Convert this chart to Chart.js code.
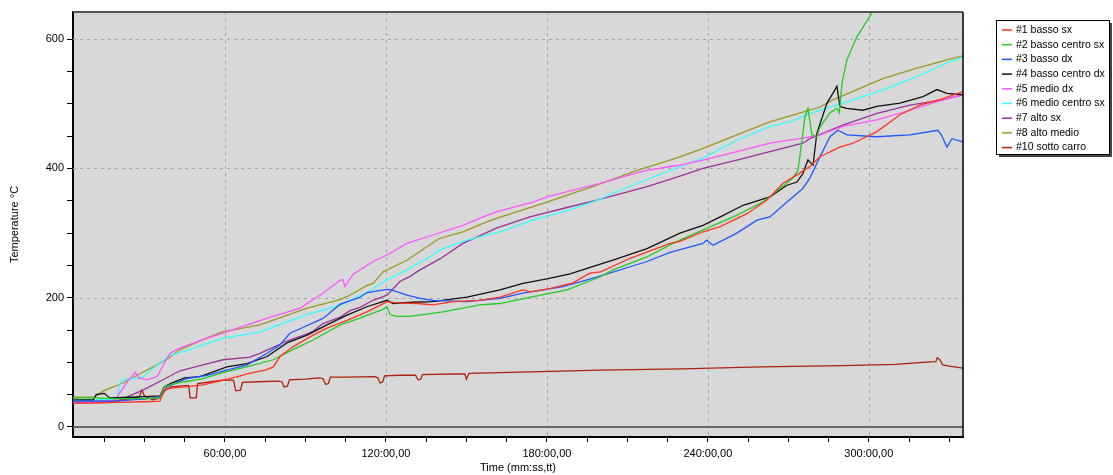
<!DOCTYPE html>
<html>
<head>
<meta charset="utf-8">
<script src="https://cdn.jsdelivr.net/npm/chart.js@4.4.0/dist/chart.umd.min.js"></script>
<style>
  body { margin: 0; background: #fff; }
  #wrap { width: 1113px; height: 475px; }
</style>
</head>
<body>
<div id="wrap"><canvas id="myChart" width="1113" height="475"></canvas></div>
<script>
// tempo in minuti, temperatura in gradi
const bassoSx = [[3.4,37],[11,37],[20,38],[30,39],[35.8,40],[37.3,58],[40,60],[45,62],[51.8,65],[57,70],[60,73],[64,77],[69,83],[75,88],[78,93],[80.5,109],[85.3,124],[92.8,142],[98,153],[105.5,165],[112.9,178],[119.6,192],[120.4,194],[124,192],[131.6,191],[137.5,189],[145,194],[155,196],[162.5,201],[171,212],[174,209],[181,214],[189.7,223],[196,238],[200,240],[211,261],[225.9,284],[229.6,287],[238.2,302],[244.6,310],[254.6,330],[262,351],[268,377],[273.2,390],[278,403],[281.8,418],[289.2,433],[294.1,439],[303,457],[311.6,483],[319,498],[327.6,508],[335.1,519]];
const bassoCentroSx = [[3.4,45],[11,45],[20,44],[30,44],[35.8,45],[37.3,62],[40,66],[45,70],[51,74],[60,85],[68,93],[78,104],[85,119],[93,135],[103,158],[110,168],[118.9,182],[120.4,186],[121.5,174],[124,171],[129,171],[141.3,178],[155,189],[162.5,191],[174,201],[187.5,212],[199.8,232],[204.6,243],[217.3,263],[226,282],[229.6,289],[238.2,305],[249.5,325],[260.5,348],[266.9,369],[271.7,385],[273.6,397],[275.1,444],[276.2,480],[277.3,493],[278.8,452],[280.6,449],[281.8,464],[285.5,486],[288.1,493],[289,486],[290,532],[291.8,568],[295.6,604],[301.5,643],[306,690]];
const bassoDx = [[3.4,40],[11,40],[20,40],[25,42],[30,43],[35.8,47],[38.4,62],[45.8,75],[53.3,80],[60.7,88],[68.2,96],[75.7,114],[80.5,127],[84.2,145],[88,152],[96.5,168],[103,190],[110,200],[113,208],[120.4,213],[122,212],[127.8,204],[132.7,199],[137.5,196],[150,194],[162.5,199],[171,207],[186,217],[198.6,232],[217.3,256],[225.9,270],[238.2,284],[239.5,289],[241.9,281],[250.8,300],[258.3,320],[263.1,325],[269.5,348],[275.4,369],[278,385],[281.8,418],[285.5,449],[288.5,459],[291.8,452],[303,449],[315.3,452],[325.7,459],[327,452],[329.1,433],[331,446],[335.1,441]];
const bassoCentroDx = [[3.4,42],[11,42],[12,50],[15,52],[17,45],[25,46],[30,47],[35.8,48],[37.3,62],[40,68],[45,76],[50.7,78],[60.7,93],[68.2,98],[75.7,109],[83.1,130],[90.6,142],[98,158],[105.5,173],[112.9,186],[120.4,196],[122.6,191],[130,193],[137.5,194],[150.2,201],[162.5,212],[171.1,222],[180,229],[188.6,237],[204.6,258],[217.3,276],[229.6,300],[238.2,312],[244.6,325],[253.1,343],[263.1,356],[269.5,374],[273.2,379],[275.4,392],[277.3,413],[279.2,405],[280.6,454],[284.4,501],[286.6,516],[288.1,527],[289.2,496],[291.8,493],[297.8,490],[303,496],[311.6,501],[320.2,511],[325.4,522],[329.1,516],[335.1,514]];
const medioDx = [[3.4,38],[11,38],[19,42],[21.5,57],[24,72],[26.6,85],[27.8,76],[31,73],[34.7,78],[37.7,101],[39.5,114],[43,122],[51.8,135],[60.7,147],[68.2,158],[77.9,171],[88,184],[90.6,191],[96.5,207],[102.9,227],[104,228],[104.7,217],[107.7,236],[115.2,256],[120.4,266],[127.8,284],[137.5,297],[148.7,312],[156.2,325],[161.4,333],[174.8,348],[180,356],[199.8,377],[213.6,393],[217.3,397],[225.9,403],[229.6,405],[238.2,413],[250.8,426],[263.1,439],[275.4,447],[281.8,452],[290.3,465],[303,475],[315.3,490],[327.6,506],[335.1,514]];
const medioCentroSx = [[3.4,42],[11,42],[19.7,43],[21,70],[22,73],[29.4,77],[34.7,96],[39.5,111],[45.8,118],[51.8,127],[59,137],[73,147],[88,170],[90.6,174],[102.9,188],[112.9,208],[120.4,228],[127.8,243],[137.5,266],[140,274],[150.2,289],[162.5,302],[174.8,320],[188.6,336],[199.8,352],[204.6,362],[229.6,403],[238.2,416],[250.8,444],[263.1,465],[270.6,472],[278,485],[288.1,498],[305.2,521],[317.9,542],[330.2,565],[335.1,572]];
const altoSx = [[3.4,40],[11,40],[20.9,42],[29.4,57],[36.9,73],[43.2,87],[51.8,96],[59.3,104],[69.3,108],[73,114],[83.1,133],[88,140],[92.8,148],[96.5,160],[103,170],[106.6,180],[110.3,185],[115.2,196],[120.4,204],[125.2,225],[129,233],[132.7,243],[140.1,260],[148.7,284],[161.4,308],[173.7,325],[186,338],[198.6,351],[217.3,372],[229.6,388],[238.2,400],[250.8,413],[263.1,426],[275.4,439],[278,446],[290.3,467],[303,485],[315.3,498],[327.6,506],[335.1,514]];
const altoMedio = [[3.4,46],[11,46],[15.3,57],[22,68],[27.2,80],[34.7,96],[39.5,108],[43,119],[51.8,135],[59,147],[69,155],[73,158],[88,180],[90.6,184],[102.9,197],[107,205],[112.9,219],[115.2,222],[118.9,240],[120.4,243],[127.8,258],[137.5,285],[140.1,292],[148.7,302],[156.2,315],[161.4,323],[174.8,341],[180,348],[198.6,374],[213.6,397],[225.9,413],[229.6,418],[238.2,431],[250.8,452],[255.7,460],[263.1,472],[275.4,487],[281.8,495],[286.6,506],[305.2,539],[317.9,555],[330.2,569],[335.1,574]];
const sottoCarro = [[3.4,37],[15,38],[22,42],[28,46],[29,57],[30,48],[33,42],[36,45],[37.5,56],[40,62],[45,64],[46.5,64],[47,45],[49.3,45],[49.8,67],[55,70],[60,73],[63.2,72],[64,56],[65.8,57],[66.5,69],[72,70],[80,71],[81.2,70],[82,62],[83.3,63],[84,73],[90,74],[95,76],[96.5,75],[97.5,66],[98.5,67],[99.3,77],[105,77],[116,78],[117,76],[117.8,68],[118.8,70],[119.5,79],[125,80],[131,80],[132,73],[133,74],[133.6,81],[145,82],[149.4,82],[150,74],[150.6,80],[151,83],[170,85],[200,88],[230,90],[260,93],[290,95],[310,97],[320,100],[325,101],[325.5,107],[326.5,104],[327.5,96],[330,94],[335.1,91]];

const nomi = ['#1 basso sx', '#2 basso centro sx', '#3 basso dx', '#4 basso centro dx', '#5 medio dx', '#6 medio centro sx', '#7 alto sx', '#8 alto medio', '#10 sotto carro'];
const colori = ['#ff3322', '#22cc22', '#2255ff', '#111111', '#ff55ff', '#33ffff', '#993399', '#999922', '#aa2211'];
const serie = [bassoSx, bassoCentroSx, bassoDx, bassoCentroDx, medioDx, medioCentroSx, altoSx, altoMedio, sottoCarro];

const tickMinuti = [60, 120, 180, 240, 300];
const tickGradi = [0, 200, 400, 600];

const FONT_LEG = '10.5px "Liberation Sans", Arial, sans-serif';

const sfondo = {
    id: 'sfondo',
    beforeDraw(chart) {
        const a = chart.chartArea, c = chart.ctx;
        c.save();
        c.fillStyle = '#d8d8d8';
        c.fillRect(a.left, a.top, a.right - a.left, a.bottom - a.top);
        c.restore();
    },
    beforeDatasetsDraw(chart) {
        const a = chart.chartArea, c = chart.ctx;
        const x = chart.scales.x, y = chart.scales.y;
        c.save();
        c.strokeStyle = '#a4a4a4';
        c.lineWidth = 1;
        c.setLineDash([3, 4]);
        tickMinuti.forEach(m => {
            const px = Math.round(x.getPixelForValue(m)) + 0.5;
            c.beginPath(); c.moveTo(px, a.top); c.lineTo(px, a.bottom); c.stroke();
        });
        tickGradi.filter(g => g !== 0).forEach(g => {
            const py = Math.round(y.getPixelForValue(g)) + 0.5;
            c.beginPath(); c.moveTo(a.left, py); c.lineTo(a.right, py); c.stroke();
        });
        c.setLineDash([]);
        c.strokeStyle = '#666';
        c.lineWidth = 2;
        const p0 = Math.round(y.getPixelForValue(0));
        c.beginPath(); c.moveTo(a.left, p0); c.lineTo(a.right, p0); c.stroke();
        c.restore();
    },
    afterDraw(chart) {
        const a = chart.chartArea, c = chart.ctx;
        c.save();
        c.strokeStyle = '#555';
        c.lineWidth = 2;
        c.beginPath(); c.moveTo(a.left, a.top); c.lineTo(a.right, a.top); c.stroke();
        c.strokeStyle = '#000';
        c.lineWidth = 1.5;
        c.beginPath(); c.moveTo(a.right, a.top); c.lineTo(a.right, a.bottom); c.stroke();

        // legenda
        const lx = 996, ly = 20, lw = 113, lh = 134;
        c.fillStyle = '#444';
        c.fillRect(lx + 3, ly + 3, lw, lh);
        c.fillStyle = '#fff';
        c.fillRect(lx, ly, lw, lh);
        c.strokeStyle = '#000';
        c.lineWidth = 1;
        c.strokeRect(lx + 0.5, ly + 0.5, lw, lh);
        c.font = FONT_LEG;
        c.textBaseline = 'middle';
        chart.data.datasets.forEach((d, i) => {
            const ry = 30 + i * 14.7;
            c.strokeStyle = d.borderColor;
            c.lineWidth = 1.5;
            c.beginPath(); c.moveTo(1002, ry); c.lineTo(1012, ry); c.stroke();
            c.fillStyle = '#000';
            c.fillText(d.label, 1016, ry);
        });
        c.restore();
    }
};

const ctx = document.getElementById('myChart').getContext('2d');
const myChart = new Chart(ctx, {
    type: 'line',
    data: {
        datasets: serie.map((s, i) => ({
            label: nomi[i],
            data: s.map(p => ({ x: p[0], y: p[1] })),
            borderColor: colori[i],
            borderWidth: 1.3,
            pointRadius: 0,
            tension: 0,
            fill: false
        }))
    },
    options: {
        responsive: false,
        animation: false,
        layout: { padding: { top: 12, right: 150, left: 0, bottom: 0 } },
        plugins: { legend: { display: false }, tooltip: { enabled: false } },
        scales: {
            x: {
                type: 'linear',
                min: 3.35,
                max: 335.1,
                afterFit: s => { s.height = 38; },
                grid: { drawOnChartArea: false, tickColor: '#000', tickLength: 5, tickWidth: 1 },
                border: { display: true, color: '#000', width: 2 },
                ticks: {
                    stepSize: 15,
                    includeBounds: false,
                    autoSkip: false,
                    maxRotation: 0,
                    padding: 5,
                    color: '#000',
                    font: { family: '"Liberation Sans", Arial, sans-serif', size: 11 },
                    callback: v => tickMinuti.includes(v) ? v + ':00,00' : ''
                },
                title: {
                    display: true,
                    text: 'Time (mm:ss,tt)',
                    color: '#000',
                    padding: { top: 0, bottom: 0 },
                    font: { family: '"Liberation Sans", Arial, sans-serif', size: 11 }
                }
            },
            y: {
                type: 'linear',
                min: -15.5,
                max: 642,
                afterFit: s => { s.width = 73; },
                grid: { drawOnChartArea: false, tickColor: '#000', tickLength: 6, tickWidth: 1 },
                border: { display: true, color: '#000', width: 2 },
                ticks: {
                    stepSize: 50,
                    includeBounds: false,
                    autoSkip: false,
                    padding: 3,
                    color: '#000',
                    font: { family: '"Liberation Sans", Arial, sans-serif', size: 11 },
                    callback: v => tickGradi.includes(v) ? String(v) : ''
                },
                title: {
                    display: true,
                    text: 'Temperature °C',
                    color: '#000',
                    padding: { top: 8, bottom: 0 },
                    font: { family: '"Liberation Sans", Arial, sans-serif', size: 11 }
                }
            }
        }
    },
    plugins: [sfondo]
});
</script>
</body>
</html>
